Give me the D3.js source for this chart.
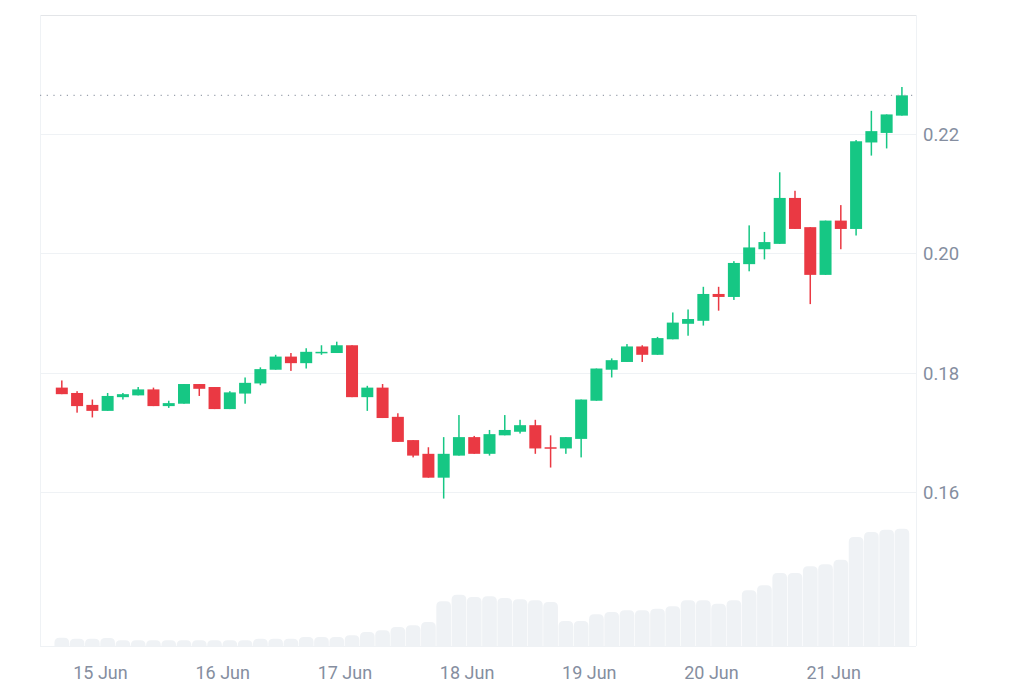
<!DOCTYPE html>
<html><head><meta charset="utf-8">
<script src="https://cdn.jsdelivr.net/npm/d3@7"></script>
<style>
html,body{margin:0;padding:0;background:#fff;}
svg{display:block;font-family:Roboto,"Noto Sans",sans-serif;}
</style></head>
<body>
<svg id="chart" width="1024" height="683"></svg>
<script>
// ---- data (3-hour candles, UTC) ----
const startOpen = Date.UTC(2024, 5, 14, 15, 0); // first candle open time
const stepHours = 3;
const open  = [0.1775,0.1766,0.1746,0.1736,0.1759,0.1762,0.1772,0.1744,0.1748,0.1781,0.1776,0.1739,0.1765,0.1782,0.1805,0.1827,0.1816,0.1833,0.1833,0.1846,0.1759,0.1775,0.1726,0.1687,0.1664,0.1624,0.1661,0.1692,0.1664,0.1695,0.1701,0.1712,0.1675,0.1673,0.1689,0.1753,0.1805,0.1818,0.1844,0.1830,0.1856,0.1882,0.1887,0.1932,0.1927,0.1982,0.2007,0.2016,0.2093,0.2044,0.1964,0.2055,0.2041,0.2186,0.2202,0.2231];
const high  = [0.1787,0.1769,0.1755,0.1766,0.1766,0.1776,0.1775,0.1753,0.1781,0.1781,0.1776,0.1769,0.1792,0.1809,0.1830,0.1833,0.1841,0.1846,0.1852,0.1846,0.1778,0.1781,0.1732,0.1687,0.1675,0.1692,0.1729,0.1694,0.1704,0.1729,0.1721,0.1721,0.1695,0.1692,0.1755,0.1807,0.1824,0.1848,0.1846,0.1860,0.1901,0.1906,0.1944,0.1944,0.1987,0.2047,0.2036,0.2136,0.2105,0.2044,0.2055,0.2081,0.2190,0.2239,0.2233,0.2279];
const low   = [0.1764,0.1733,0.1725,0.1736,0.1755,0.1762,0.1744,0.1741,0.1748,0.1761,0.1739,0.1739,0.1748,0.1779,0.1805,0.1803,0.1807,0.1830,0.1833,0.1759,0.1736,0.1724,0.1684,0.1658,0.1624,0.1589,0.1661,0.1664,0.1661,0.1695,0.1698,0.1664,0.1641,0.1664,0.1658,0.1753,0.1792,0.1818,0.1818,0.1830,0.1856,0.1862,0.1879,0.1904,0.1922,0.1970,0.1990,0.2016,0.2041,0.1915,0.1964,0.2007,0.2030,0.2164,0.2176,0.2231];
const close = [0.1764,0.1744,0.1736,0.1761,0.1764,0.1772,0.1744,0.1749,0.1781,0.1773,0.1739,0.1767,0.1783,0.1806,0.1827,0.1816,0.1835,0.1835,0.1846,0.1759,0.1775,0.1724,0.1684,0.1661,0.1624,0.1664,0.1692,0.1664,0.1697,0.1704,0.1712,0.1673,0.1673,0.1692,0.1755,0.1807,0.1821,0.1844,0.1830,0.1858,0.1884,0.1890,0.1932,0.1927,0.1984,0.2010,0.2019,0.2093,0.2041,0.1964,0.2055,0.2041,0.2188,0.2205,0.2233,0.2265];
const volume = [2.5,2.2,2.2,2.4,1.7,1.7,1.7,1.7,1.7,1.7,1.7,1.7,1.7,2.2,2.2,2.2,2.7,2.7,2.7,3.2,4.2,4.7,5.7,6.2,7.2,13.4,15.4,14.7,14.9,14.4,14.0,13.7,13.2,7.5,7.5,9.5,10.2,10.7,10.7,11.2,11.9,13.7,13.7,12.7,13.7,16.7,18.2,21.9,21.9,23.9,24.5,25.9,32.7,34.2,34.9,35.2];
const priceTicks = [0.16, 0.18, 0.20, 0.22];

const HOUR = 3600e3;
const candles = open.map((o, i) => ({
  t: new Date(startOpen + (i * stepHours + stepHours / 2) * HOUR),
  o, h: high[i], l: low[i], c: close[i], v: volume[i]
}));

// ---- layout ----
const L = 40, R = 916, T = 15, B = 646;
const svg = d3.select("#chart");

const x = d3.scaleTime()
  .domain([new Date(Date.UTC(2024, 5, 14, 12, 13)), new Date(Date.UTC(2024, 5, 21, 16, 16))])
  .range([L, R]);
const y = d3.scaleLinear().domain([0.13418, 0.23997]).range([B, T]);
const yVol = d3.scaleLinear().domain([0, 36]).range([B, B - 120]);

const green = "#16c784", red = "#ea3943";
const slot = x(new Date(startOpen + stepHours * HOUR)) - x(new Date(startOpen));
const bodyW = 12;

// gridlines
svg.append("g").selectAll("line").data(priceTicks).join("line")
  .attr("x1", L).attr("x2", R)
  .attr("y1", d => Math.round(y(d)) + 0.5).attr("y2", d => Math.round(y(d)) + 0.5)
  .attr("stroke", "#eff2f5").attr("stroke-width", 1);

// frame
svg.append("line").attr("x1", L).attr("x2", R).attr("y1", T + 0.5).attr("y2", T + 0.5)
  .attr("stroke", "#e3e5e8").attr("stroke-width", 1.2);
svg.append("line").attr("x1", L + 0.5).attr("x2", L + 0.5).attr("y1", T).attr("y2", B)
  .attr("stroke", "#eff2f5");
svg.append("line").attr("x1", R + 0.5).attr("x2", R + 0.5).attr("y1", T).attr("y2", B)
  .attr("stroke", "#eff2f5");
svg.append("line").attr("x1", L).attr("x2", R).attr("y1", B + 0.5).attr("y2", B + 0.5)
  .attr("stroke", "#eff2f5");

// volume bars with rounded tops
function topRounded(x0, x1, yt, yb, r) {
  r = Math.min(r, (x1 - x0) / 2, yb - yt);
  return `M${x0},${yb}V${yt + r}Q${x0},${yt} ${x0 + r},${yt}H${x1 - r}Q${x1},${yt} ${x1},${yt + r}V${yb}Z`;
}
svg.append("g").selectAll("path").data(candles).join("path")
  .attr("d", d => topRounded(x(d.t) - slot / 2 + 0.3, x(d.t) + slot / 2 - 0.3, yVol(d.v), yVol(0), 5))
  .attr("fill", "#eff2f5");

// candles
const cg = svg.append("g").selectAll("g").data(candles).join("g")
  .attr("fill", d => d.c >= d.o ? green : red)
  .attr("stroke", "none");
cg.append("rect")
  .attr("x", d => x(d.t) - 0.75).attr("width", 1.5)
  .attr("y", d => y(d.h)).attr("height", d => Math.max(1, y(d.l) - y(d.h)));
cg.append("rect")
  .attr("x", d => x(d.t) - bodyW / 2).attr("width", bodyW)
  .attr("y", d => y(Math.max(d.o, d.c)))
  .attr("height", d => Math.max(1.5, Math.abs(y(d.o) - y(d.c))));

// current price dotted line
const last = close[close.length - 1];
svg.append("line").attr("x1", L).attr("x2", R)
  .attr("y1", y(last)).attr("y2", y(last))
  .attr("stroke", "#9aa1ad").attr("stroke-width", 1.2).attr("stroke-dasharray", "1.2,5.5");

// y axis (right)
const yAxis = svg.append("g").attr("transform", `translate(${R},0)`)
  .call(d3.axisRight(y).tickValues(priceTicks).tickFormat(d3.format(".2f")).tickSize(0).tickPadding(7));
yAxis.select(".domain").remove();
yAxis.selectAll("text").attr("fill", "#858ea0").style("font-size", "18.5px")
  .style("font-family", "Roboto, sans-serif").attr("dy", "0.35em");

// x axis
const xAxis = svg.append("g").attr("transform", `translate(0,${B})`)
  .call(d3.axisBottom(x).ticks(d3.utcDay.every(1)).tickFormat(d3.utcFormat("%-d %b")).tickSize(0).tickPadding(20));
xAxis.select(".domain").remove();
xAxis.selectAll("text").attr("fill", "#858ea0").style("font-size", "18px")
  .style("font-family", "Roboto, sans-serif");
</script>
</body></html>
